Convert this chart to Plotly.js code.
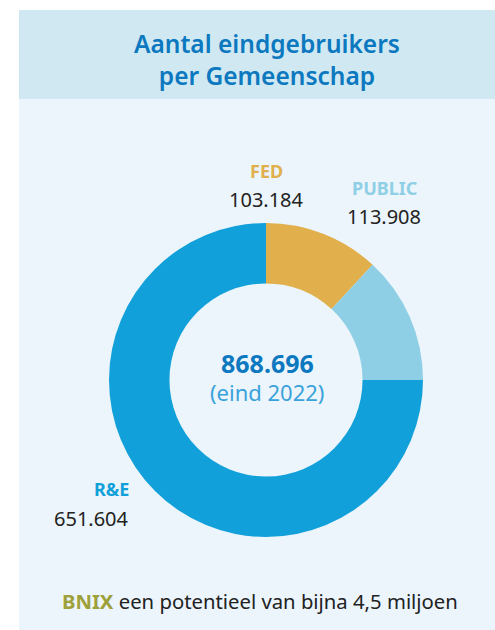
<!DOCTYPE html>
<html><head><meta charset="utf-8">
<script src="https://cdn.plot.ly/plotly-3.0.1.min.js"></script>
<style>html,body{margin:0;padding:0;background:#fff}#c{width:495px;height:630px}</style>
</head><body><div id="c"></div>
<script>
const categories = ["FED", "PUBLIC", "R&E"];
const values = [103184, 113908, 651604];
const valueLabels = ["103.184", "113.908", "651.604"];
const colors = ["#e1b04c", "#8fcfe6", "#12a0da"];
const totalLabel = "868.696";
const totalSub = "(eind 2022)";
const titleLines = ["Aantal eindgebruikers", "per Gemeenschap"];
const footerKey = "BNIX";
const footerText = "een potentieel van bijna 4,5 miljoen";

const W = 495, H = 630;
const py = y => 1 - y / H;
const px = x => x / W;
const cx = 266, cy = 380, R = 157;

const trace = {
  type: "pie", labels: categories, values: values, sort: false,
  direction: "clockwise", rotation: 0, hole: 0.615,
  marker: {colors: colors, line: {width: 0}},
  textinfo: "none", hoverinfo: "none", showlegend: false,
  domain: {x: [px(cx - R), px(cx + R)], y: [py(cy + R), py(cy - R)]}
};

const font = "Noto Sans, Lato, sans-serif";
const ann = [
  {x: px(267), y: py(59), text: titleLines.join("<br>"), font: {family: font, size: 24.5, color: "#0b78c0", weight: 600}},
  {x: px(266), y: py(171), text: "<b>" + categories[0] + "</b>", font: {family: font, size: 18, color: colors[0]}},
  {x: px(266), y: py(199), text: valueLabels[0], font: {family: font, size: 20, color: "#222"}},
  {x: px(384), y: py(188), text: "<b>" + categories[1] + "</b>", font: {family: font, size: 18, color: colors[1]}},
  {x: px(384), y: py(216), text: valueLabels[1], font: {family: font, size: 20, color: "#222"}},
  {x: px(131), y: py(489), xanchor: "right", text: "<b>" + categories[2] + "</b>", font: {family: font, size: 18, color: colors[2]}},
  {x: px(131), y: py(518), xanchor: "right", text: valueLabels[2], font: {family: font, size: 20, color: "#222"}},
  {x: px(267), y: py(363), text: "<b>" + totalLabel + "</b>", font: {family: font, size: 25, color: "#0b78c0"}},
  {x: px(267), y: py(392), text: totalSub, font: {family: font, size: 22, color: "#3aa2da"}},
  {x: px(260), y: py(601), text: '<b><span style="color:#9ea03a">' + footerKey + '</span></b> ' + footerText, font: {family: font, size: 20.3, color: "#222"}}
].map(a => Object.assign({xref: "paper", yref: "paper", showarrow: false, xanchor: "center", yanchor: "middle"}, a));

const layout = {
  width: W, height: H, margin: {l: 0, r: 0, t: 0, b: 0},
  paper_bgcolor: "#ffffff", plot_bgcolor: "#ffffff",
  shapes: [
    {type: "rect", xref: "paper", yref: "paper", x0: px(19), x1: 1, y0: 0, y1: py(10), fillcolor: "#ebf5fb", line: {width: 0}, layer: "below"},
    {type: "rect", xref: "paper", yref: "paper", x0: px(19), x1: 1, y0: py(99), y1: py(10), fillcolor: "#cfe8f2", line: {width: 0}, layer: "below"}
  ],
  annotations: ann
};
Plotly.newPlot("c", [trace], layout, {displayModeBar: false, staticPlot: true});
</script></body></html>
